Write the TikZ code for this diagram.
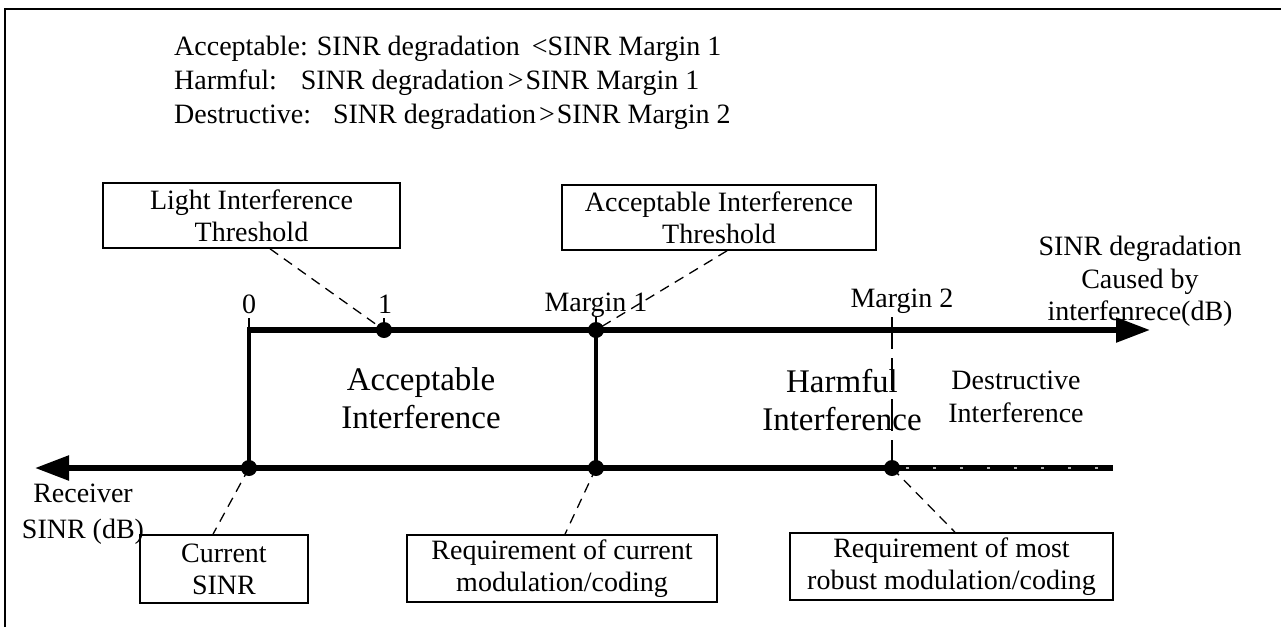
\documentclass[tikz,border=0pt]{standalone}
\usepackage{fontspec}
\setmainfont{Liberation Serif}
\usetikzlibrary{arrows.meta}
\tikzset{
  lbl/.style={inner sep=0pt, align=center, font=\fontsize{28}{32.5}\selectfont},
  axlbl/.style={inner sep=0pt, anchor=base, font=\fontsize{28}{32}\selectfont},
  region/.style={inner sep=0pt, align=center, font=\fontsize{33}{37.5}\selectfont},
  small/.style={inner sep=0pt, align=center, font=\fontsize{28}{33}\selectfont},
  topline/.style={inner sep=0pt, anchor=base west, font=\fontsize{28}{32}\selectfont},
  infobox/.style={draw, line width=1.6pt, inner sep=0pt, align=center, font=\fontsize{28}{32}\selectfont},
  axis/.style={line width=5.5pt},
  vline/.style={line width=4pt},
  leader/.style={line width=1.3pt, dash pattern=on 10pt off 7pt},
  tick/.style={line width=1.4pt},
  dot/.style={circle, fill=black, inner sep=0pt, minimum size=16pt},
  bigarrow/.style={-{Triangle[length=34pt,width=24pt]}},
}
\begin{document}
\begin{tikzpicture}[x=1pt,y=-1pt]
\useasboundingbox (0,0) rectangle (1281,627);
% frame
\draw[line width=2.2pt] (5,627) -- (5,9) -- (1281,9);
% top definitions
\node[topline] (t1) at (174,55) {Acceptable:\hspace{9pt}SINR degradation\hspace{12pt}<SINR Margin 1};
\node[topline] (t2) at (174,89) {Harmful:\hspace{24pt}SINR degradation\hspace{4pt}>\hspace{2pt}SINR Margin 1};
\node[topline] (t3) at (174,123) {Destructive:\hspace{22pt}SINR degradation\hspace{3pt}>\hspace{2pt}SINR Margin 2};
% points
\coordinate (c0) at (249,330);
\node[dot] (p1) at (384,330) {};
\node[dot] (m1t) at (596,330) {};
\coordinate (atop) at (1150,330);
\node[dot] (cur) at (249,468) {};
\node[dot] (m1b) at (596,468) {};
\node[dot] (m2b) at (892,468) {};
\coordinate (bl) at (35,468);
\coordinate (br) at (1113,468);
\coordinate (dashend) at (1100,468);
\coordinate (m2top) at (892,317);
% axes
\draw[axis] (br) -- (cur.center);
\draw[axis, bigarrow] (cur.center) -- (bl);
\draw[vline] ([yshift=2pt]cur.center) -- ([yshift=-2.75pt]c0);
\draw[axis, bigarrow] ([xshift=-2pt]c0) -- (atop);
\draw[vline] (m1b.center) -- (m1t.center);
\draw[line width=2pt, gray!60, dash pattern=on 3pt off 24pt, dash phase=-14pt] (m2b.center) -- (dashend);
\draw[line width=1.8pt, dash pattern=on 32pt off 9pt] (m2top) -- (m2b.center);
% ticks and labels
\node[axlbl] (l0) at (249,313) {0};
\node[axlbl] (l1) at (385,313) {1};
\node[axlbl] (lm1) at (596,311) {Margin 1};
\node[axlbl] (lm2) at (902,307) {Margin 2};
\draw[tick] (249,318) -- (c0);
\draw[tick] (384,318) -- (p1.center);
\draw[tick] (596,317) -- (m1t.center);
\node[lbl] (xlab) at (1140,281.5) {SINR degradation\\Caused by\\interfenrece(dB)};
\node[lbl, font=\fontsize{28}{36}\selectfont] (ylab) at (83,514) {Receiver\\SINR (dB)};
% regions
\node[region] (acc) at (421,398) {Acceptable\\Interference};
\node[region, font=\fontsize{33}{38}\selectfont] (harm) at (842,400) {Harmful\\Interference};
\node[small] (dest) at (1016,397) {Destructive\\Interference};
% boxes
\node[infobox, minimum width=297pt, minimum height=65pt] (b1) at (251.5,215.5) {Light Interference\\Threshold};
\node[infobox, minimum width=314pt, minimum height=65pt] (b2) at (719,217.5) {Acceptable Interference\\Threshold};
\node[infobox, minimum width=168pt, minimum height=68pt] (b3) at (224,569) {Current\\SINR};
\node[infobox, minimum width=310pt, minimum height=67pt] (b4) at (562,568.5) {Requirement of current\\modulation/coding};
\node[infobox, minimum width=323pt, minimum height=67pt] (b5) at (951.5,566.5) {Requirement of most\\robust modulation/coding};
% leaders
\draw[leader] ([xshift=18.5pt]b1.south) -- (p1.center);
\draw[leader] ([xshift=8pt]b2.south) -- (m1t.center);
\draw[leader] (cur.center) -- ([xshift=-11pt]b3.north);
\draw[leader] (m1b.center) -- ([xshift=3pt]b4.north);
\draw[leader] (m2b.center) -- ([xshift=3.5pt]b5.north);
\end{tikzpicture}
\end{document}
